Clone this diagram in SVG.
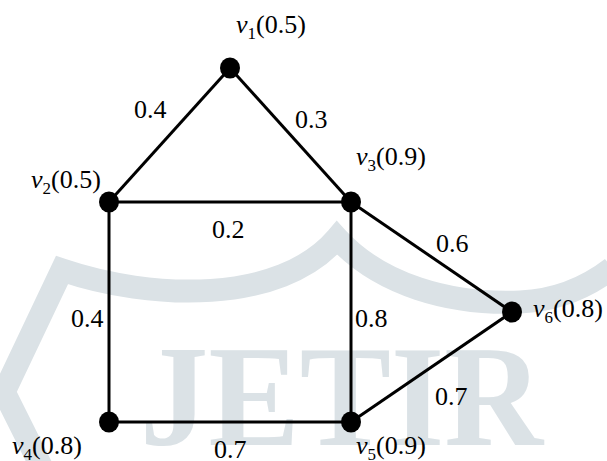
<svg xmlns="http://www.w3.org/2000/svg" width="607" height="461" viewBox="0 0 607 461">
<style>
.wm{fill:none;stroke:#dbe2e6;stroke-width:23;stroke-linejoin:miter}
.e{stroke:#000;stroke-width:3;fill:none}
.n{fill:#000}
</style>
<rect width="607" height="461" fill="#fff"/>
<g id="watermark">
<path class="wm" d="M 42 468 L 4 392 L 62 270 C 150 300 280 305 337 238 C 380 285 450 305 520 302 C 560 300 590 285 612 268"/>
<text x="140" y="445" font-family="Liberation Serif, Times New Roman, serif" font-weight="bold" font-size="145" fill="#dbe2e6" textLength="403" lengthAdjust="spacingAndGlyphs">JETIR</text>
</g>
<g id="edges" font-family="Liberation Serif, Times New Roman, serif" font-size="26" fill="#000">
<line class="e" x1="230" y1="68" x2="109" y2="202"/>
<line class="e" x1="230" y1="68" x2="351" y2="202"/>
<line class="e" x1="109" y1="202" x2="351" y2="202"/>
<line class="e" x1="109" y1="202" x2="109" y2="422"/>
<line class="e" x1="351" y1="202" x2="351" y2="422"/>
<line class="e" x1="351" y1="202" x2="512" y2="312"/>
<line class="e" x1="109" y1="422" x2="351" y2="422"/>
<line class="e" x1="351" y1="422" x2="512" y2="312"/>
<text x="134" y="118">0.4</text>
<text x="295" y="128">0.3</text>
<text x="212" y="238">0.2</text>
<text x="436" y="252">0.6</text>
<text x="71" y="327">0.4</text>
<text x="355" y="327">0.8</text>
<text x="435" y="405">0.7</text>
<text x="214" y="458">0.7</text>
</g>
<g id="v1" font-family="Liberation Serif, Times New Roman, serif" font-size="26" fill="#000">
<ellipse class="n" cx="230" cy="68" rx="10" ry="10.5"/>
<text x="236" y="33"><tspan font-style="italic">v</tspan><tspan font-size="17" dy="6">1</tspan><tspan dy="-6">(0.5)</tspan></text>
</g>
<g id="v2" font-family="Liberation Serif, Times New Roman, serif" font-size="26" fill="#000">
<ellipse class="n" cx="109" cy="202" rx="10" ry="10.5"/>
<text x="31" y="188"><tspan font-style="italic">v</tspan><tspan font-size="17" dy="6">2</tspan><tspan dy="-6">(0.5)</tspan></text>
</g>
<g id="v3" font-family="Liberation Serif, Times New Roman, serif" font-size="26" fill="#000">
<ellipse class="n" cx="351" cy="202" rx="10" ry="10.5"/>
<text x="356" y="165"><tspan font-style="italic">v</tspan><tspan font-size="17" dy="6">3</tspan><tspan dy="-6">(0.9)</tspan></text>
</g>
<g id="v4" font-family="Liberation Serif, Times New Roman, serif" font-size="26" fill="#000">
<ellipse class="n" cx="109" cy="422" rx="10" ry="10.5"/>
<text x="12" y="454"><tspan font-style="italic">v</tspan><tspan font-size="17" dy="6">4</tspan><tspan dy="-6">(0.8)</tspan></text>
</g>
<g id="v5" font-family="Liberation Serif, Times New Roman, serif" font-size="26" fill="#000">
<ellipse class="n" cx="351" cy="422" rx="10" ry="10.5"/>
<text x="356" y="454"><tspan font-style="italic">v</tspan><tspan font-size="17" dy="6">5</tspan><tspan dy="-6">(0.9)</tspan></text>
</g>
<g id="v6" font-family="Liberation Serif, Times New Roman, serif" font-size="26" fill="#000">
<ellipse class="n" cx="512" cy="312" rx="10" ry="10.5"/>
<text x="533" y="317"><tspan font-style="italic">v</tspan><tspan font-size="17" dy="6">6</tspan><tspan dy="-6">(0.8)</tspan></text>
</g>
</svg>
